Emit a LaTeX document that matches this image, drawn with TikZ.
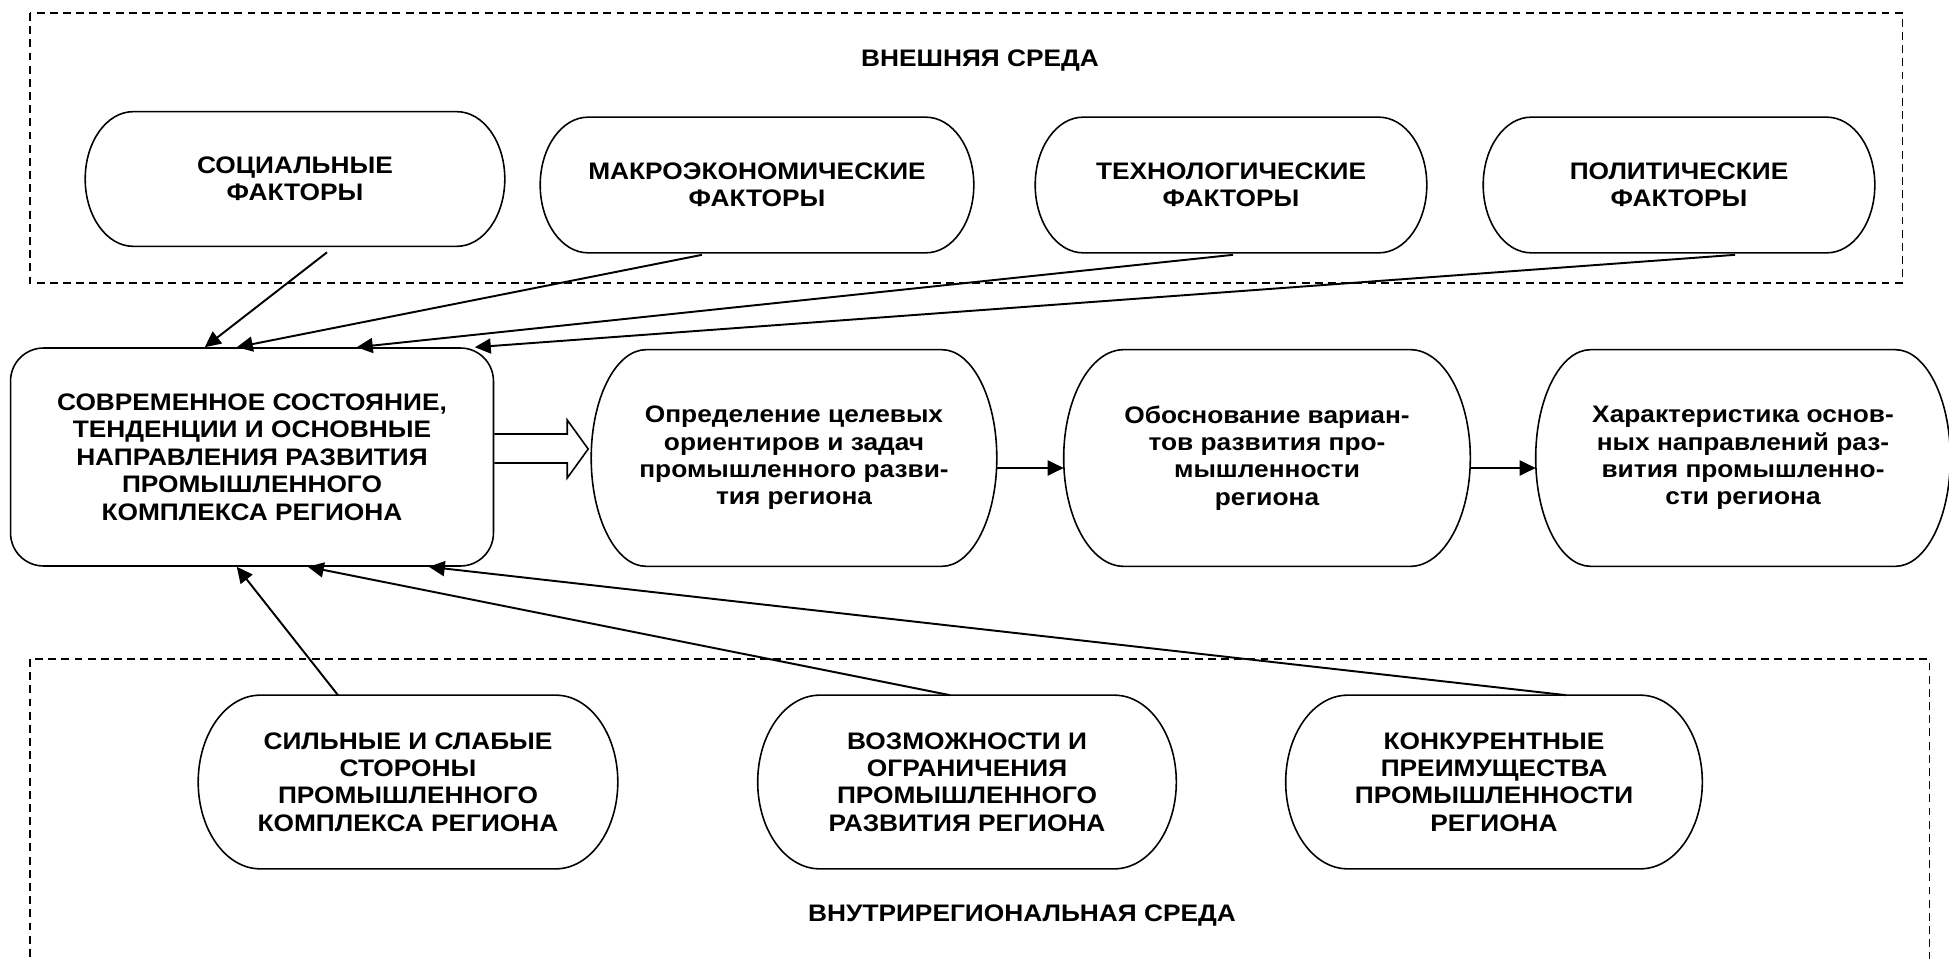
\documentclass[tikz,border=0pt]{standalone}
\usepackage{fontspec}
\setmainfont{Liberation Sans}[FakeStretch=1.1]
\usetikzlibrary{calc,arrows.meta}

\tikzset{
  every node/.style={font=\bfseries\fontsize{13.6}{15.6}\selectfont, align=center},
  capsule/.style={inner sep=0pt,
    append after command={\pgfextra{\draw[line width=0.9pt] let \p1=(\tikzlastnode.north west), \p2=(\tikzlastnode.south east) in
      (\x1+#1,\y1) -- (\x2-#1,\y1) arc[start angle=90, end angle=-90, x radius=#1, y radius={(\y1-\y2)/2}]
      -- (\x1+#1,\y2) arc[start angle=270, end angle=90, x radius=#1, y radius={(\y1-\y2)/2}] -- cycle;}}},
  frame/.style={line width=0.6pt, dash pattern=on 4.5pt off 3pt},
  arr/.style={-{Triangle[length=0.32cm,width=0.3cm]}, line width=1.1pt},
  blockarr/.style={line width=0.9pt, line join=miter}
}

\begin{document}
\begin{tikzpicture}[x=0.02cm, y=-0.02cm]
\useasboundingbox (0,0) rectangle (1949,959);

% External environment
\draw[frame] (30,13) rectangle (1902,283);
\node (ext) at (980,61) {ВНЕШНЯЯ СРЕДА};

\node (soc) at (295,179) [capsule=0.96cm, minimum width=8.38cm, minimum height=2.68cm] {СОЦИАЛЬНЫЕ\\ФАКТОРЫ};
\node (mac) at (757,185) [capsule=0.96cm, minimum width=8.66cm, minimum height=2.7cm] {МАКРОЭКОНОМИЧЕСКИЕ\\ФАКТОРЫ};
\node (tec) at (1231,185) [capsule=0.96cm, minimum width=7.82cm, minimum height=2.7cm] {ТЕХНОЛОГИЧЕСКИЕ\\ФАКТОРЫ};
\node (pol) at (1679,185) [capsule=0.96cm, minimum width=7.82cm, minimum height=2.7cm] {ПОЛИТИЧЕСКИЕ\\ФАКТОРЫ};

% Middle row
\node (cur) at (252,457) [draw, line width=0.9pt, rounded corners=0.66cm, minimum width=9.66cm, minimum height=4.36cm] {СОВРЕМЕННОЕ СОСТОЯНИЕ,\\ТЕНДЕНЦИИ И ОСНОВНЫЕ\\НАПРАВЛЕНИЯ РАЗВИТИЯ\\ПРОМЫШЛЕННОГО\\КОМПЛЕКСА РЕГИОНА};
\node (def) at (794,458) [capsule=1.1cm, minimum width=8.1cm, minimum height=4.32cm] {Определение целевых\\ориентиров и задач\\промышленного разви-\\тия региона};
\node (obo) at (1267,458) [capsule=1.2cm, minimum width=8.12cm, minimum height=4.32cm] {Обоснование вариан-\\тов развития про-\\мышленности\\региона};
\node (har) at (1743,458) [capsule=1.1cm, minimum width=8.28cm, minimum height=4.32cm] {Характеристика основ-\\ных направлений раз-\\вития промышленно-\\сти региона};

% Internal environment
\draw[frame] (30,659) rectangle (1929,1000);
\node (int) at (1022,916) {ВНУТРИРЕГИОНАЛЬНАЯ СРЕДА};

\node (str) at (408,782) [capsule=1.24cm, minimum width=8.38cm, minimum height=3.46cm] {СИЛЬНЫЕ И СЛАБЫЕ\\СТОРОНЫ\\ПРОМЫШЛЕННОГО\\КОМПЛЕКСА РЕГИОНА};
\node (pos) at (967,782) [capsule=1.24cm, minimum width=8.36cm, minimum height=3.46cm] {ВОЗМОЖНОСТИ И\\ОГРАНИЧЕНИЯ\\ПРОМЫШЛЕННОГО\\РАЗВИТИЯ РЕГИОНА};
\node (com) at (1494,782) [capsule=1.24cm, minimum width=8.32cm, minimum height=3.46cm] {КОНКУРЕНТНЫЕ\\ПРЕИМУЩЕСТВА\\ПРОМЫШЛЕННОСТИ\\РЕГИОНА};

% Factors to the current state
\draw[arr] (soc.south) ++(32,6) -- ($(cur.north west)+(195,0)$);
\draw[arr] (mac.south) ++(-55,2) -- ($(cur.north west)+(227,0)$);
\draw[arr] (tec.south) ++(2,2) -- ($(cur.north west)+(347,0)$);
\draw[arr] (pol.south) ++(56,2) -- ($(cur.north west)+(465,0)$);

% Region to the current state
\draw[arr] (str.north) ++(-70,0) -- ($(cur.south west)+(227,0)$);
\draw[arr] (pos.north) ++(-17,0) -- ($(cur.south west)+(298,0)$);
\draw[arr] (com.north) ++(72,0) -- ($(cur.south west)+(419,0)$);

% Block arrow and chain
\draw[blockarr] ($(cur.east)+(0,-23)$) -- ++(73,0) -- ++(0,-14) -- ($(def.west)+(-3,-9)$)
  -- ($(cur.east)+(73,21)$) -- ++(0,-15) -- ($(cur.east)+(0,6)$);
\draw[arr] ($(def.east)+(0,10)$) -- ($(obo.west)+(0,10)$);
\draw[arr] ($(obo.east)+(0,10)$) -- ($(har.west)+(0,10)$);
\end{tikzpicture}
\end{document}
